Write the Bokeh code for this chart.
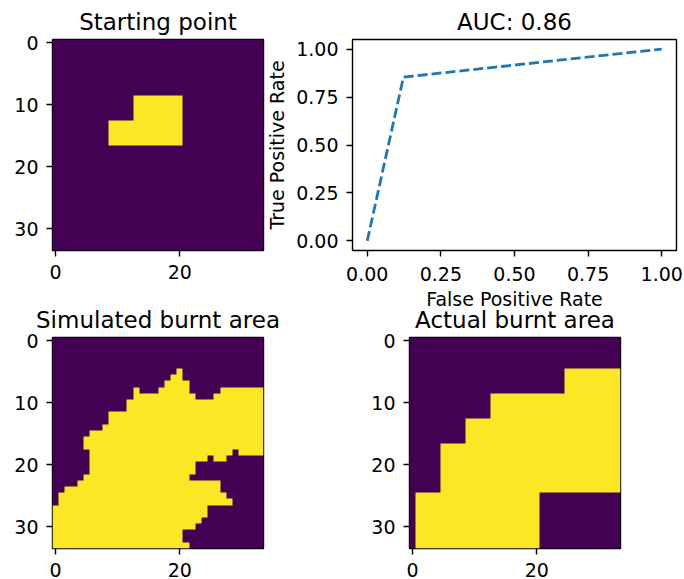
import numpy as np
from bokeh.plotting import figure
from bokeh.models import FixedTicker, Range1d
from bokeh.embed import file_html
from bokeh.resources import INLINE

FONT = "DejaVu Sans"
PALETTE = ["#440154", "#fde725"]
GRID = 34

# burnt cells per grid row: (row, first column, last column)
start_spans = [(9, 13, 20), (10, 13, 20), (11, 13, 20), (12, 13, 20),
               (13, 9, 20), (14, 9, 20), (15, 9, 20), (16, 9, 20)]

simulated_spans = [
    (5, 20, 20), (6, 19, 20), (7, 18, 21), (8, 13, 13), (8, 17, 21), (8, 27, 33),
    (9, 13, 22), (9, 26, 33), (10, 12, 33), (11, 12, 33), (12, 9, 33), (13, 9, 33),
    (14, 8, 33), (15, 6, 33), (16, 5, 33), (17, 5, 33), (18, 6, 28), (18, 30, 33),
    (19, 6, 24), (19, 26, 27), (20, 6, 22), (21, 6, 22), (22, 5, 21), (23, 4, 26),
    (24, 2, 26), (25, 1, 27), (26, 1, 28), (27, 0, 24), (28, 0, 24), (29, 0, 23),
    (30, 0, 22), (31, 0, 20), (32, 0, 20), (33, 0, 21),
]

actual_spans = [(r, 25, 33) for r in range(5, 9)] + \
               [(r, 13, 33) for r in range(9, 13)] + \
               [(r, 9, 33) for r in range(13, 17)] + \
               [(r, 5, 33) for r in range(17, 25)] + \
               [(r, 1, 20) for r in range(25, 34)]

fpr = [0.0, 0.123, 1.0]
tpr = [0.0, 0.854, 1.0]

titles = ["Starting point", "AUC: 0.86", "Simulated burnt area", "Actual burnt area"]
image_xticks = [0, 20]
image_yticks = [0, 10, 20, 30]
roc_ticks = [0.0, 0.25, 0.5, 0.75, 1.0]
roc_labels = {0: "0.00", 0.25: "0.25", 0.5: "0.50", 0.75: "0.75", 1: "1.00"}


def grid_from(spans):
    g = np.zeros((GRID, GRID), dtype=float)
    for r, a, b in spans:
        g[r, a:b + 1] = 1
    return g


def place(left, top):
    return {"position": "absolute", "left": f"{left}px", "top": f"{top}px"}


def style(p, title):
    p.title.text = title
    p.title.align = "center"
    p.title.text_font = FONT
    p.title.text_font_size = "23px"
    p.title.text_font_style = "normal"
    p.title.text_color = "black"
    p.title.standoff = 10
    p.grid.visible = False
    p.outline_line_color = "black"
    p.outline_line_width = 1.4
    p.border_fill_color = None
    p.background_fill_color = None
    for ax in (p.xaxis[0], p.yaxis[0]):
        ax.axis_line_color = None
        ax.major_tick_in = 0
        ax.major_tick_out = 6
        ax.major_tick_line_width = 1.4
        ax.major_tick_line_color = "black"
        ax.minor_tick_line_color = None
        ax.major_label_text_font = FONT
        ax.major_label_text_font_size = "19px"
        ax.major_label_text_color = "black"
    p.xaxis[0].major_label_standoff = 10
    p.yaxis[0].major_label_standoff = 8
    return p


def image_panel(title, spans, left, top, b_left, b_right, b_top, b_bottom):
    p = figure(frame_width=211, frame_height=211, output_backend="svg", toolbar_location=None,
               x_range=Range1d(-0.5, 33.5), y_range=Range1d(33.5, -0.5),
               min_border_left=b_left, min_border_right=b_right,
               min_border_top=b_top, min_border_bottom=b_bottom,
               styles=place(left, top))
    p.image(image=[grid_from(spans)], x=-0.5, y=-0.5, dw=GRID, dh=GRID, palette=PALETTE,
            origin="bottom_left", anchor="bottom_left")
    style(p, title)
    p.xaxis[0].major_label_standoff = 8
    p.xaxis[0].ticker = FixedTicker(ticks=image_xticks)
    p.yaxis[0].ticker = FixedTicker(ticks=image_yticks)
    return p


a = image_panel(titles[0], start_spans, 0, -1, 52, 20, 40, 40)
c = image_panel(titles[2], simulated_spans, 0, 299, 52, 40, 36, 32)
d = image_panel(titles[3], actual_spans, 355, 299, 54, 64, 36, 32)

b = figure(frame_width=324, frame_height=211, output_backend="svg", toolbar_location=None,
           x_range=Range1d(-0.05, 1.05), y_range=Range1d(-0.05, 1.05),
           min_border_left=90, min_border_right=8, min_border_top=40, min_border_bottom=59,
           styles=place(262, -1))
b.line(fpr, tpr, line_color="#1f77b4", line_width=2.8, line_dash="10 4")
style(b, titles[1])
b.xaxis[0].ticker = FixedTicker(ticks=roc_ticks)
b.yaxis[0].ticker = FixedTicker(ticks=roc_ticks)
b.xaxis[0].major_label_overrides = roc_labels
b.yaxis[0].major_label_overrides = roc_labels
b.xaxis[0].axis_label = "False Positive Rate"
b.yaxis[0].axis_label = "True Positive Rate"
for ax in (b.xaxis[0], b.yaxis[0]):
    ax.axis_label_text_font = FONT
    ax.axis_label_text_font_size = "19px"
    ax.axis_label_text_font_style = "normal"
    ax.axis_label_text_color = "black"
b.xaxis[0].axis_label_standoff = 4
b.yaxis[0].axis_label_standoff = 5

open("out.html", "w").write(file_html([a, b, c, d], INLINE))
